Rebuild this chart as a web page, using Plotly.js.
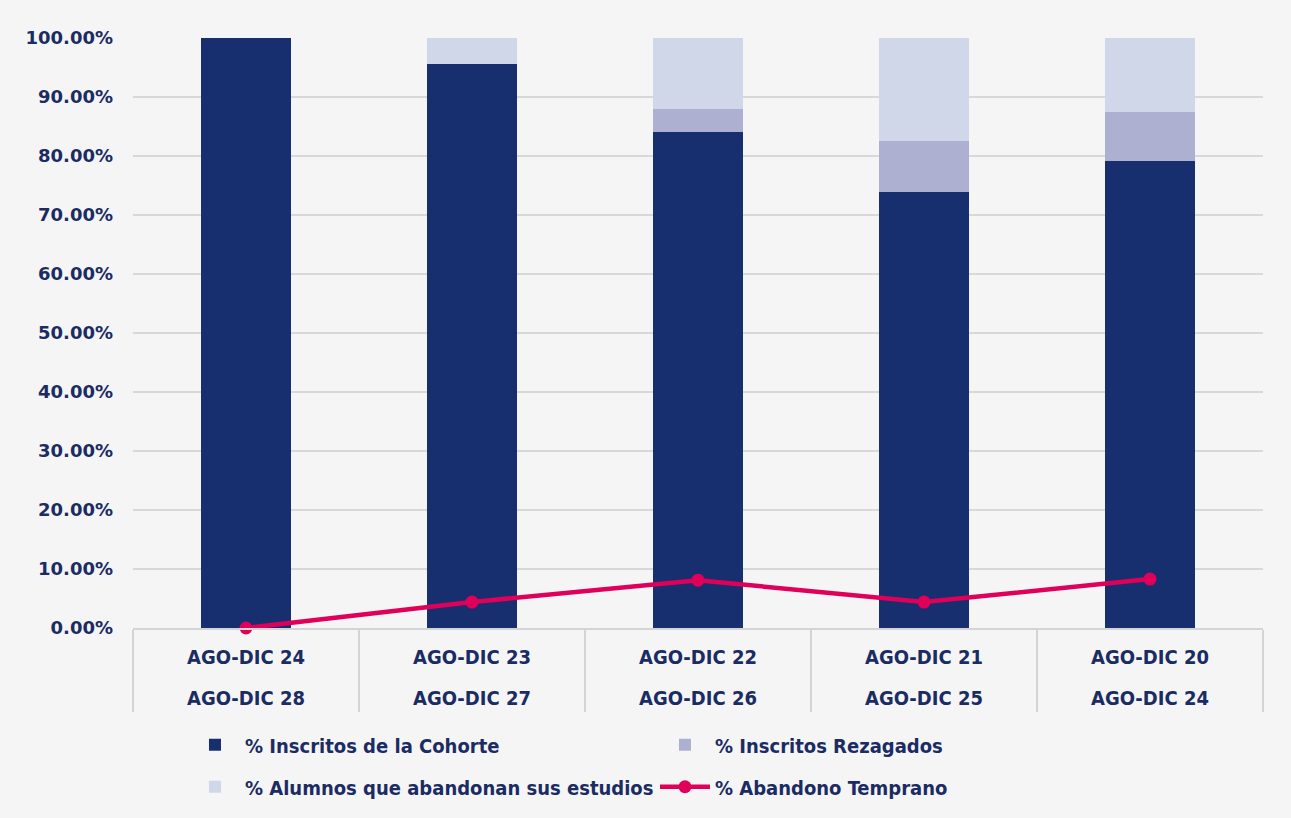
<!DOCTYPE html>
<html>
<head>
<meta charset="utf-8">
<script src="https://cdn.plot.ly/plotly-3.0.1.min.js"></script>
<style>
html,body{margin:0;padding:0;background:#f5f5f6;}
#chart{width:1291px;height:818px;}
</style>
</head>
<body>
<div id="chart"></div>
<script>
// Category labels (two levels)
var periodoIngreso = ["AGO-DIC 24", "AGO-DIC 23", "AGO-DIC 22", "AGO-DIC 21", "AGO-DIC 20"];
var periodoEgreso  = ["AGO-DIC 28", "AGO-DIC 27", "AGO-DIC 26", "AGO-DIC 25", "AGO-DIC 24"];

// Series values (%)
var inscritosCohorte = [100.0, 95.6, 84.0, 73.9, 79.1];
var inscritosRezagados = [0.0, 0.0, 3.9, 8.6, 8.3];
var alumnosAbandonan = [0.0, 4.4, 12.1, 17.5, 12.6];
var abandonoTemprano = [0.0, 4.4, 8.1, 4.4, 8.3];

var yTicks = [0, 10, 20, 30, 40, 50, 60, 70, 80, 90, 100];
var yTickText = yTicks.map(function (v) { return v.toFixed(2) + "%"; });

var navy = "#1b2c63";
var condensed = "'DejaVu Sans Condensed', 'Liberation Sans Narrow', sans-serif";
var lineFont = {family: condensed, size: 20, color: navy, weight: "bold"};

var traces = [
  {type: "bar", name: "% Inscritos de la Cohorte", x: periodoIngreso, y: inscritosCohorte,
   marker: {color: "#172f6e"}, legend: "legend"},
  {type: "bar", name: "% Inscritos Rezagados", x: periodoIngreso, y: inscritosRezagados,
   marker: {color: "#adb0d0"}, legend: "legend"},
  {type: "bar", name: "% Alumnos que abandonan sus estudios", x: periodoIngreso, y: alumnosAbandonan,
   marker: {color: "#cfd7e8"}, legend: "legend2"},
  {type: "scatter", mode: "lines+markers", name: "% Abandono Temprano", x: periodoIngreso, y: abandonoTemprano,
   line: {color: "#e0005a", width: 4.5}, marker: {color: "#e0005a", size: 13},
   cliponaxis: false, legend: "legend2"}
];

// second line of each category label
var annotations = periodoIngreso.map(function (cat, i) {
  return {x: cat, xref: "x", y: 0, yref: "paper", yshift: -70,
          text: periodoEgreso[i], showarrow: false,
          xanchor: "center", yanchor: "middle", font: lineFont};
});

var legendBase = {
  orientation: "h", xanchor: "left", yanchor: "top",
  entrywidth: 405, traceorder: "normal", itemwidth: 50,
  font: lineFont, bgcolor: "rgba(0,0,0,0)"
};

var layout = {
  width: 1291, height: 818,
  margin: {l: 133, r: 28, t: 38, b: 188},
  paper_bgcolor: "#f5f5f6",
  plot_bgcolor: "rgba(0,0,0,0)",
  barmode: "stack",
  bargap: 0.6,
  showlegend: true,
  legend: Object.assign({}, legendBase, {x: 0.046, y: -0.165}),
  legend2: Object.assign({}, legendBase, {x: 0.046, y: -0.236}),
  annotations: annotations,
  xaxis: {
    type: "category",
    showline: true, linecolor: "#d4d4d4", linewidth: 2,
    ticks: "outside", tickson: "boundaries", ticklen: 82, tickwidth: 1.5, tickcolor: "#d4d4d4",
    ticklabelstandoff: 10,
    tickfont: lineFont,
    showgrid: false, fixedrange: true
  },
  yaxis: {
    range: [0, 100], tickmode: "array", tickvals: yTicks, ticktext: yTickText,
    tickfont: {family: "'DejaVu Sans', sans-serif", size: 18, color: navy, weight: "bold"},
    showgrid: true, gridcolor: "#d8d8d8", gridwidth: 2,
    zeroline: false, showline: false, ticks: "", ticklabelstandoff: 19
  }
};

Plotly.newPlot("chart", traces, layout, {displayModeBar: false, staticPlot: true});
</script>
</body>
</html>
